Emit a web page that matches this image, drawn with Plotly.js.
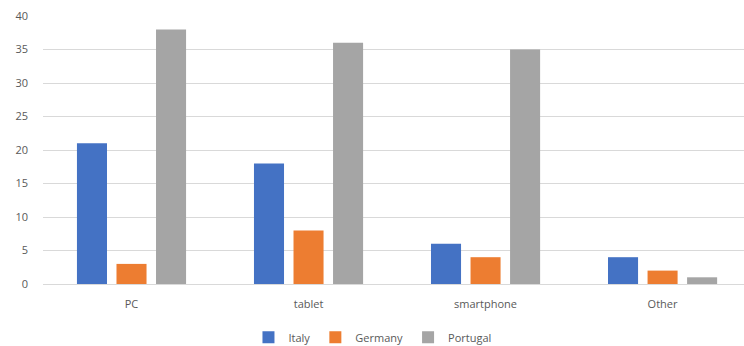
<!DOCTYPE html>
<html>
<head>
<meta charset="utf-8">
<script src="https://cdn.plot.ly/plotly-3.0.1.min.js"></script>
<style>html,body{margin:0;padding:0;background:#fff;}#chart{width:744px;height:346px;}</style>
</head>
<body>
<div id="chart"></div>
<script>
const categories = ["PC", "tablet", "smartphone", "Other"];
const italy = [21, 18, 6, 4];
const germany = [3, 8, 4, 2];
const portugal = [38, 36, 35, 1];
const yTicks = [0, 5, 10, 15, 20, 25, 30, 35, 40];

const traces = [
  {type: "bar", name: "Italy", x: categories, y: italy, marker: {color: "#4472C4"}},
  {type: "bar", name: "Germany", x: categories, y: germany, marker: {color: "#ED7D31"}},
  {type: "bar", name: "Portugal", x: categories, y: portugal, marker: {color: "#A5A5A5"}}
];

const layout = {
  width: 744, height: 346,
  margin: {l: 43, r: 0, t: 16, b: 62, autoexpand: false},
  paper_bgcolor: "#fff", plot_bgcolor: "#fff",
  font: {family: "Open Sans, Liberation Sans, sans-serif", size: 11, color: "#595959"},
  barmode: "group",
  bargap: 0.33,
  bargroupgap: 0.24,
  xaxis: {
    range: [-0.5, 3.46],
    showgrid: false, zeroline: false,
    showline: false, ticks: "",
    ticklabelstandoff: 12,
    automargin: false,
    tickfont: {size: 11, color: "#595959"},
    fixedrange: true
  },
  yaxis: {
    range: [0, 40],
    tickvals: yTicks,
    showgrid: true, gridcolor: "#D9D9D9", gridwidth: 1,
    zeroline: true, zerolinecolor: "#D9D9D9", zerolinewidth: 1,
    showline: false, ticks: "",
    ticklabelstandoff: 14,
    automargin: false,
    tickfont: {size: 11, color: "#595959"},
    fixedrange: true
  },
  showlegend: true,
  legend: {
    orientation: "h", x: 0.47, xanchor: "center",
    yref: "container", y: 0.025, yanchor: "middle",
    font: {size: 11, color: "#595959"},
    itemwidth: 30, traceorder: "normal"
  }
};

Plotly.newPlot("chart", traces, layout, {displayModeBar: false, staticPlot: true});
</script>
</body>
</html>
